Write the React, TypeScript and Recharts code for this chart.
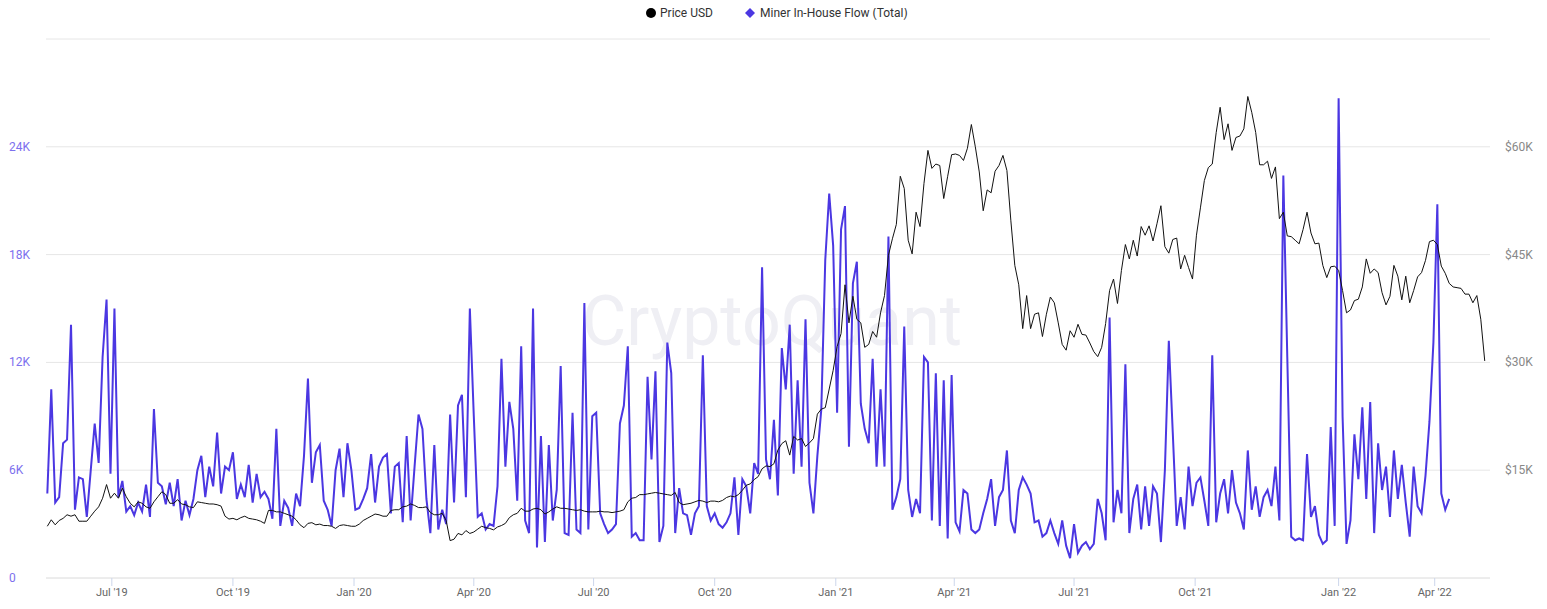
import React from 'react';
import { CartesianGrid, Line, LineChart, XAxis, YAxis } from 'recharts';

// one point every 3 days, starting 13 May 2019
const START = Date.UTC(2019, 4, 13);
const DAY = 86400000;
const STEP_DAYS = 3;

// BTC price, thousands of USD
const priceUsdK = [
  7.2, 8.1, 7.4, 8.0, 8.3, 8.8, 8.6, 8.8, 7.9, 7.9,
  7.9, 8.6, 9.3, 9.9, 11.1, 13.0, 11.1, 11.8, 11.1, 12.5,
  11.3, 10.4, 9.9, 10.6, 10.4, 9.9, 9.7, 10.6, 11.3, 12.0,
  11.6, 10.4, 10.4, 10.9, 10.3, 10.2, 9.9, 9.8, 10.6, 10.5,
  10.4, 10.3, 10.3, 10.2, 10.0, 8.6, 8.2, 8.3, 8.1, 8.4,
  8.6, 8.3, 8.2, 8.1, 7.9, 7.6, 9.4, 9.4, 9.2, 9.2,
  9.0, 8.8, 8.6, 8.1, 7.4, 7.0, 7.6, 7.7, 7.4, 7.5,
  7.3, 7.3, 7.2, 6.9, 7.3, 7.4, 7.3, 7.2, 7.2, 7.5,
  8.0, 8.3, 8.6, 8.9, 8.8, 8.6, 8.6, 9.4, 9.5, 9.5,
  9.9, 10.0, 10.3, 10.1, 9.8, 9.8, 9.9, 9.1, 8.8, 8.8,
  9.0, 8.0, 5.2, 5.4, 6.2, 6.0, 6.6, 6.2, 6.4, 6.8,
  7.2, 7.0, 6.9, 6.7, 7.1, 7.3, 7.6, 8.4, 8.8, 9.0,
  9.7, 9.3, 9.3, 9.6, 9.7, 9.5, 8.9, 9.2, 9.6, 9.9,
  9.7, 9.7, 9.6, 9.5, 9.4, 9.5, 9.3, 9.2, 9.2, 9.2,
  9.3, 9.2, 9.2, 9.1, 9.2, 9.3, 9.5, 10.6, 11.1, 11.2,
  11.6, 11.6, 11.7, 11.8, 11.9, 11.8, 11.7, 11.6, 11.5, 11.9,
  10.5, 10.2, 10.3, 10.4, 10.6, 10.8, 10.7, 10.5, 10.7, 10.7,
  10.6, 10.8, 11.2, 11.4, 11.3, 11.6, 12.2, 12.9, 13.1, 13.7,
  14.1, 15.2, 15.6, 15.5, 15.9, 17.8, 18.7, 19.1, 17.1, 19.7,
  19.2, 19.4, 18.3, 18.8, 19.4, 22.8, 23.5, 23.7, 26.3, 28.9,
  32.2, 34.0, 40.8, 35.5, 39.2, 36.0, 35.5, 32.1, 32.5, 34.3,
  33.5, 36.9, 39.3, 44.9, 47.2, 49.2, 55.9, 54.2, 47.0, 45.1,
  50.9, 48.9, 54.9, 59.5, 57.0, 57.6, 57.4, 52.8, 55.9, 58.9,
  59.0, 58.8, 58.1, 59.8, 63.1, 60.0, 56.5, 51.1, 54.0, 53.6,
  56.6, 57.4, 58.8, 56.7, 49.7, 43.5, 40.8, 34.7, 39.3, 34.7,
  36.7, 36.9, 33.6, 36.7, 39.1, 38.3, 35.5, 32.5, 31.7, 34.4,
  33.5, 35.3, 33.9, 33.8, 32.7, 31.5, 30.8, 32.1, 35.4, 40.0,
  41.6, 38.2, 42.8, 46.4, 44.4, 47.0, 44.8, 48.9, 47.7, 49.0,
  46.9, 49.3, 51.8, 46.1, 45.2, 47.1, 47.3, 43.0, 44.9, 43.2,
  41.6, 47.7, 51.5, 55.3, 57.1, 57.6, 62.0, 65.5, 61.0, 63.2,
  59.5, 61.3, 61.5, 62.5, 67.0, 64.8, 62.0, 57.5, 57.5, 58.0,
  55.6, 57.2, 50.0, 50.9, 47.6, 47.5, 47.0, 46.5, 48.5, 50.9,
  48.0, 46.5, 46.6, 43.5, 41.8, 43.3, 43.4, 42.8, 40.0, 36.9,
  37.3, 38.6, 38.8, 40.5, 44.4, 42.4, 43.0, 42.5, 39.7, 38.0,
  39.2, 43.5, 42.0, 38.7, 42.0, 38.3, 40.0, 41.9, 42.5, 44.2,
  46.8, 47.0, 46.4, 43.4, 42.4, 41.0, 40.5, 40.4, 40.3, 39.5,
  39.5, 38.3, 39.3, 36.0, 30.2,
];

// miner in-house flow (total), thousands of BTC
const minerFlowK = [
  4.7, 10.5, 4.2, 4.5, 7.5, 7.7, 14.1, 3.8, 5.6, 5.5,
  3.4, 6.0, 8.6, 6.4, 12.3, 15.5, 5.8, 15.0, 4.5, 5.4,
  3.7, 4.0, 3.5, 4.2, 3.7, 5.2, 3.4, 9.4, 5.3, 5.1,
  4.1, 5.3, 4.0, 5.5, 3.2, 4.3, 3.5, 4.4, 6.0, 6.8,
  4.5, 6.2, 5.1, 8.1, 4.7, 6.2, 6.0, 7.0, 4.4, 5.2,
  4.5, 6.3, 4.2, 5.8, 4.5, 4.8, 4.4, 3.3, 8.3, 2.9,
  4.3, 3.9, 2.9, 4.7, 4.0, 6.8, 11.1, 5.3, 7.0, 7.4,
  4.3, 3.8, 2.9, 6.0, 7.2, 4.5, 7.5, 6.0, 3.8, 3.9,
  4.4, 5.0, 6.9, 4.2, 6.2, 6.7, 6.9, 3.6, 6.2, 6.4,
  3.1, 7.9, 3.2, 6.2, 9.1, 8.3, 4.4, 2.5, 7.4, 2.7,
  3.8, 3.0, 9.1, 4.2, 9.6, 10.2, 4.5, 15.0, 9.0, 3.4,
  3.6, 2.7, 3.0, 2.9, 5.1, 12.2, 6.2, 9.8, 8.3, 4.3,
  12.9, 3.2, 2.5, 15.0, 1.7, 7.9, 2.0, 7.4, 3.2, 4.9,
  11.8, 2.5, 2.4, 9.2, 2.7, 2.5, 15.3, 2.7, 9.0, 9.2,
  3.6, 3.0, 2.5, 2.7, 3.0, 8.6, 9.6, 12.9, 2.3, 2.5,
  2.1, 2.1, 11.2, 6.6, 11.5, 2.0, 2.9, 13.1, 11.4, 2.5,
  5.0, 3.6, 3.5, 2.4, 3.6, 4.0, 12.4, 4.0, 3.2, 3.6,
  3.0, 2.8, 3.1, 3.6, 5.6, 2.4, 5.5, 5.1, 3.6, 6.4,
  5.8, 17.3, 6.6, 5.5, 8.8, 4.6, 12.8, 10.5, 14.1, 5.8,
  11.0, 6.2, 14.4, 5.3, 3.6, 6.8, 9.4, 17.7, 21.4, 18.5,
  9.2, 19.4, 20.7, 7.3, 16.4, 17.6, 9.7, 8.3, 7.5, 12.2,
  6.2, 10.5, 6.2, 19.0, 3.8, 4.5, 5.5, 14.0, 4.9, 3.4,
  4.4, 3.6, 12.3, 12.0, 3.2, 11.4, 2.9, 11.0, 2.2, 11.3,
  3.1, 2.6, 4.9, 4.7, 2.7, 2.5, 2.7, 3.6, 4.4, 5.5,
  2.9, 4.5, 4.9, 7.1, 3.2, 2.5, 4.9, 5.6, 5.2, 4.7,
  3.1, 3.2, 2.3, 2.5, 3.2, 2.5, 1.9, 3.2, 1.8, 1.1,
  3.0, 1.4, 1.8, 2.0, 1.6, 1.9, 4.4, 3.6, 2.1, 14.5,
  3.1, 4.9, 3.6, 11.9, 2.5, 4.4, 5.2, 2.7, 5.1, 2.9,
  5.1, 4.7, 2.0, 6.0, 13.2, 8.1, 2.9, 4.5, 2.7, 6.2,
  4.0, 5.3, 5.6, 4.3, 2.9, 12.4, 3.1, 4.7, 5.5, 3.6,
  6.0, 4.2, 3.6, 2.7, 7.1, 3.8, 5.1, 3.4, 4.5, 4.9,
  4.0, 6.2, 3.2, 22.4, 12.3, 2.3, 2.1, 2.2, 2.1, 6.9,
  3.4, 4.0, 2.4, 1.9, 2.1, 8.4, 2.9, 26.7, 9.0, 1.9,
  3.2, 8.0, 5.5, 9.5, 4.4, 9.8, 2.5, 7.5, 4.9, 6.2,
  3.4, 7.1, 4.4, 6.3, 4.2, 2.3, 6.2, 4.0, 3.6, 5.7,
  8.7, 13.1, 20.8, 4.7, 3.8, 4.4,
];

// tick positions as they sit in the source chart (the Jan '22 label is drawn mid-January there)
const xTickDates = [
  Date.UTC(2019, 6, 1), Date.UTC(2019, 9, 1), Date.UTC(2020, 0, 1), Date.UTC(2020, 3, 1),
  Date.UTC(2020, 6, 1), Date.UTC(2020, 9, 1), Date.UTC(2021, 0, 1), Date.UTC(2021, 3, 1),
  Date.UTC(2021, 6, 1), Date.UTC(2021, 9, 1), Date.UTC(2022, 0, 18), Date.UTC(2022, 3, 1),
];
const xTickLabels = [
  "Jul '19", "Oct '19", "Jan '20", "Apr '20", "Jul '20", "Oct '20",
  "Jan '21", "Apr '21", "Jul '21", "Oct '21", "Jan '22", "Apr '22",
];
const flowTicks = [0, 6, 12, 18, 24, 30];
const priceTicks = [15, 30, 45, 60];

const X_MIN = Date.UTC(2019, 4, 12);
const X_MAX = Date.UTC(2022, 4, 13);

const rows = priceUsdK.map((price, i) => ({
  t: START + i * STEP_DAYS * DAY,
  price,
  flow: i < minerFlowK.length ? minerFlowK[i] : null,
}));

const FONT = 'Roboto, "Liberation Sans", Arial, sans-serif';
const FLOW_COLOR = '#4b37e2';
const W = 1531;
const H = 601;

const XTick = (props: any) => {
  const idx = xTickDates.indexOf(props.payload.value);
  return (
    <text x={props.x} y={596} textAnchor="middle" fontSize={11} fill="#666" fontFamily={FONT}>
      {xTickLabels[idx]}
    </text>
  );
};

const FlowTick = (props: any) => {
  const v = props.payload.value;
  if (v === 30) return <g />;
  return (
    <text x={1} y={props.y + 4} textAnchor="start" fontSize={12} fill="#7d70ee" fontFamily={FONT}>
      {v === 0 ? '0' : `${v}K`}
    </text>
  );
};

const PriceTick = (props: any) => (
  <text x={1497} y={props.y + 4} textAnchor="start" fontSize={12} fill="#888" fontFamily={FONT}>
    {`$${props.payload.value}K`}
  </text>
);

export default function App() {
  return (
    <div style={{ position: 'relative', width: W, height: H, marginTop: -8, fontFamily: FONT, overflow: 'hidden' }}>
      <svg width={W} height={H} style={{ position: 'absolute', left: 0, top: 0 }}>
        <text x={764} y={345} textAnchor="middle" fontSize={70} fill="#efeff4" fontFamily={FONT}
          textLength={380} lengthAdjust="spacingAndGlyphs">
          CryptoQuant
        </text>
      </svg>
      <div style={{ position: 'relative', zIndex: 1 }}>
        <LineChart width={W} height={H} data={rows} margin={{ top: 39, right: 0, bottom: 1, left: 0 }}>
          <CartesianGrid yAxisId="flow" vertical={false} stroke="#e6e6e6" />
          <XAxis dataKey="t" type="number" domain={[X_MIN, X_MAX]} ticks={xTickDates} tick={<XTick />}
            interval={0} height={22} tickSize={8} tickLine={{ stroke: '#ccd6eb' }} axisLine={{ stroke: '#e6e6e6' }}
            allowDataOverflow />
          <YAxis yAxisId="flow" orientation="left" width={38} domain={[0, 30]} ticks={flowTicks}
            axisLine={false} tickLine={false} tick={<FlowTick />} />
          <YAxis yAxisId="price" orientation="right" width={49} domain={[0, 75]} ticks={priceTicks}
            axisLine={false} tickLine={false} tick={<PriceTick />} />
          <Line yAxisId="flow" dataKey="flow" type="linear" stroke={FLOW_COLOR} strokeWidth={2}
            dot={false} isAnimationActive={false} />
          <Line yAxisId="price" dataKey="price" type="linear" stroke="#111" strokeWidth={1}
            dot={false} isAnimationActive={false} />
        </LineChart>
      </div>
      <svg width={W} height={30} style={{ position: 'absolute', left: 0, top: 0, zIndex: 3, pointerEvents: 'none' }}>
        <circle cx={643} cy={13} r={5} fill="#000" />
        <text x={652} y={17} fontSize={12} fill="#333" fontFamily={FONT}>Price USD</text>
        <path d="M742 8 L747 13 L742 18 L737 13 Z" fill={FLOW_COLOR} />
        <text x={752} y={17} fontSize={12} fill="#333" fontFamily={FONT}>Miner In-House Flow (Total)</text>
      </svg>
    </div>
  );
}
